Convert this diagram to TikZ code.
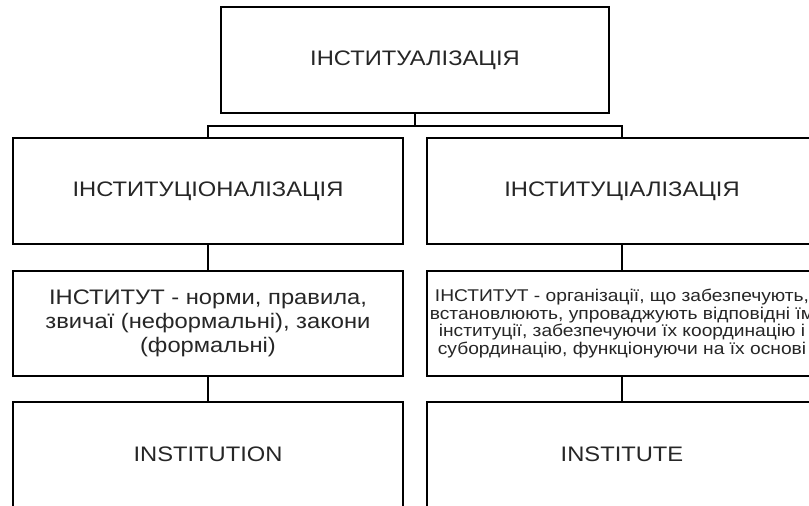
\documentclass[tikz,border=0pt]{standalone}
\usepackage{fontspec}
\setmainfont[FakeStretch=1.13]{Liberation Sans}
\tikzset{
  box/.style={draw=black, line width=1.6pt, fill=white, inner sep=0pt, outer sep=0pt,
    minimum width=390pt, minimum height=106pt, align=center, text=black!85},
  big/.style={font=\fontsize{21}{24.2}\selectfont},
  small/.style={font=\fontsize{17}{17.6}\selectfont},
  conn/.style={draw=black, line width=1.6pt}
}
\begin{document}
\begin{tikzpicture}[x=1pt,y=-1pt]
\useasboundingbox (0,0) rectangle (809,506);
\clip (0,0) rectangle (809,506);
\node[box, big, minimum width=388pt] (top) at (415,60) {ІНСТИТУАЛІЗАЦІЯ};
\node[box, big] (l2) at (208,191) {ІНСТИТУЦІОНАЛІЗАЦІЯ};
\node[box, big] (r2) at (622,191) {ІНСТИТУЦІАЛІЗАЦІЯ};
\node[box, big, minimum height=105pt] (l3) at (208,323.5) {ІНСТИТУТ - норми, правила,\\звичаї (неформальні), закони\\(формальні)};
\node[box, small, minimum height=105pt] (r3) at (622,323.5) {\makebox[0pt]{ІНСТИТУТ - організації, що забезпечують,}\\\makebox[0pt]{встановлюють, упроваджують відповідні їм}\\\makebox[0pt]{інституції, забезпечуючи їх координацію і}\\\makebox[0pt]{субординацію, функціонуючи на їх основі}};
\node[box, minimum height=106pt] (l4) at (208,455) {};
\node[big, text=black!85] (l4t) at (208,454) {INSTITUTION};
\node[box, minimum height=106pt] (r4) at (622,455) {};
\node[big, text=black!85] (r4t) at (622,454) {INSTITUTE};
\coordinate (bar) at (415,126);
\draw[conn] (top.south) -- (bar) -| (l2.north);
\draw[conn] (bar) -| (r2.north);
\draw[conn] (l2.south) -- (l3.north);
\draw[conn] (r2.south) -- (r3.north);
\draw[conn] (l3.south) -- (l4.north);
\draw[conn] (r3.south) -- (r4.north);
\end{tikzpicture}
\end{document}
